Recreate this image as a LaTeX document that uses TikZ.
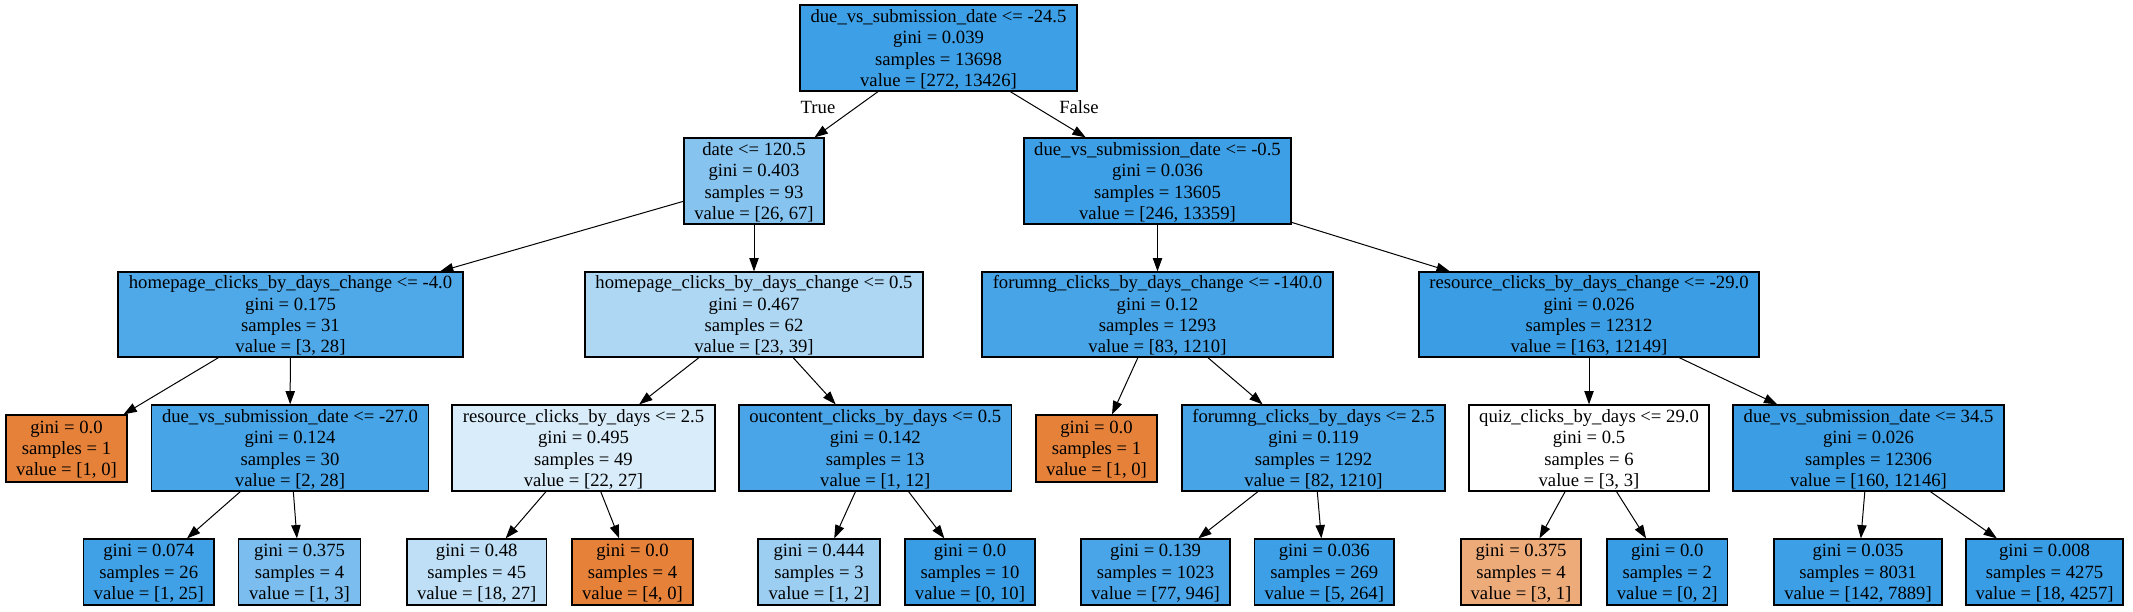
\documentclass[tikz,border=0pt]{standalone}
\usepackage{fontspec}
\setmainfont{Liberation Serif}
\usetikzlibrary{fit,arrows.meta}
\definecolor{clsA}{RGB}{229,129,57}
\definecolor{clsB}{RGB}{57,157,229}
\newcommand\tnode[7]{\node[tbox,fill=#2,fit={(#3,#4) (#5,#6)}] (#1) {};
  \node[ttext] at ([yshift=-1pt]#1.center) {#7};}
\begin{document}
\begin{tikzpicture}[x=0.75pt,y=-0.75pt,
  tbox/.style={draw=black,line width=0.9pt,inner sep=0pt},
  ttext/.style={inner sep=0pt,align=center,
    font=\fontsize{14pt}{16pt}\selectfont},
  edge/.style={draw=black,line width=0.75pt,-{Triangle[length=10pt,width=7pt]}},
  elabel/.style={font=\fontsize{14pt}{14pt}\selectfont,inner sep=0pt}]
\useasboundingbox[fill=white] (0,0) rectangle (2133,611);
% level 0
\tnode{root}{clsB!98!white}{800}{5}{1077}{91}{due\_vs\_submission\_date <= -24.5\\gini = 0.039\\samples = 13698\\value = [272, 13426]}
% level 1
\tnode{date}{clsB!61!white}{684}{138}{824}{224}{date <= 120.5\\gini = 0.403\\samples = 93\\value = [26, 67]}
\tnode{dueA}{clsB!98!white}{1024}{138}{1291}{224}{due\_vs\_submission\_date <= -0.5\\gini = 0.036\\samples = 13605\\value = [246, 13359]}
% level 2
\tnode{hpA}{clsB!89!white}{118}{272}{463}{357}{homepage\_clicks\_by\_days\_change <= -4.0\\gini = 0.175\\samples = 31\\value = [3, 28]}
\tnode{hpB}{clsB!41!white}{585}{272}{923}{357}{homepage\_clicks\_by\_days\_change <= 0.5\\gini = 0.467\\samples = 62\\value = [23, 39]}
\tnode{fmA}{clsB!93!white}{982}{272}{1333}{357}{forumng\_clicks\_by\_days\_change <= -140.0\\gini = 0.12\\samples = 1293\\value = [83, 1210]}
\tnode{rsA}{clsB!99!white}{1419}{272}{1759}{357}{resource\_clicks\_by\_days\_change <= -29.0\\gini = 0.026\\samples = 12312\\value = [163, 12149]}
% level 3
\tnode{lfA}{clsA}{6}{415}{127}{482}{gini = 0.0\\samples = 1\\value = [1, 0]}
\tnode{dueB}{clsB!93!white}{151.5}{405}{428.5}{491}{due\_vs\_submission\_date <= -27.0\\gini = 0.124\\samples = 30\\value = [2, 28]}
\tnode{rcA}{clsB!19!white}{452}{405}{715}{491}{resource\_clicks\_by\_days <= 2.5\\gini = 0.495\\samples = 49\\value = [22, 27]}
\tnode{ouA}{clsB!92!white}{739}{405}{1011.5}{491}{oucontent\_clicks\_by\_days <= 0.5\\gini = 0.142\\samples = 13\\value = [1, 12]}
\tnode{lfB}{clsA}{1036}{415}{1157}{482}{gini = 0.0\\samples = 1\\value = [1, 0]}
\tnode{fmB}{clsB!93!white}{1182}{405}{1445}{491}{forumng\_clicks\_by\_days <= 2.5\\gini = 0.119\\samples = 1292\\value = [82, 1210]}
\tnode{qz}{white}{1469}{405}{1709}{491}{quiz\_clicks\_by\_days <= 29.0\\gini = 0.5\\samples = 6\\value = [3, 3]}
\tnode{dueC}{clsB!99!white}{1733}{405}{2004}{491}{due\_vs\_submission\_date <= 34.5\\gini = 0.026\\samples = 12306\\value = [160, 12146]}
% level 4
\tnode{l1}{clsB!96!white}{83.5}{539}{214}{605}{gini = 0.074\\samples = 26\\value = [1, 25]}
\tnode{l2}{clsB!67!white}{238.5}{539}{360.5}{605}{gini = 0.375\\samples = 4\\value = [1, 3]}
\tnode{l3}{clsB!33!white}{407}{539}{546.5}{605}{gini = 0.48\\samples = 45\\value = [18, 27]}
\tnode{l4}{clsA}{572}{539}{693}{605}{gini = 0.0\\samples = 4\\value = [4, 0]}
\tnode{l5}{clsB!50!white}{758}{539}{880}{605}{gini = 0.444\\samples = 3\\value = [1, 2]}
\tnode{l6}{clsB}{905}{539}{1035}{605}{gini = 0.0\\samples = 10\\value = [0, 10]}
\tnode{l7}{clsB!92!white}{1081}{539}{1230}{605}{gini = 0.139\\samples = 1023\\value = [77, 946]}
\tnode{l8}{clsB!98!white}{1254.5}{539}{1394}{605}{gini = 0.036\\samples = 269\\value = [5, 264]}
\tnode{l9}{clsA!67!white}{1461}{539}{1581}{605}{gini = 0.375\\samples = 4\\value = [3, 1]}
\tnode{l10}{clsB}{1607}{539}{1727.5}{605}{gini = 0.0\\samples = 2\\value = [0, 2]}
\tnode{l11}{clsB!98!white}{1774}{539}{1942}{605}{gini = 0.035\\samples = 8031\\value = [142, 7889]}
\tnode{l12}{clsB}{1966}{539}{2123}{605}{gini = 0.008\\samples = 4275\\value = [18, 4257]}
% edges
\draw[edge] (root) -- (date);
\draw[edge] (root) -- (dueA);
\draw[edge] (date) -- (hpA);
\draw[edge] (date) -- (hpB);
\draw[edge] (dueA) -- (fmA);
\draw[edge] (dueA) -- (rsA);
\draw[edge] (hpA) -- (lfA);
\draw[edge] (hpA) -- (dueB);
\draw[edge] (hpB) -- (rcA);
\draw[edge] (hpB) -- (ouA);
\draw[edge] (fmA) -- (lfB);
\draw[edge] (fmA) -- (fmB);
\draw[edge] (rsA) -- (qz);
\draw[edge] (rsA) -- (dueC);
\draw[edge] (dueB) -- (l1);
\draw[edge] (dueB) -- (l2);
\draw[edge] (rcA) -- (l3);
\draw[edge] (rcA) -- (l4);
\draw[edge] (ouA) -- (l5);
\draw[edge] (ouA) -- (l6);
\draw[edge] (fmB) -- (l7);
\draw[edge] (fmB) -- (l8);
\draw[edge] (qz) -- (l9);
\draw[edge] (qz) -- (l10);
\draw[edge] (dueC) -- (l11);
\draw[edge] (dueC) -- (l12);
% edge labels
\node[elabel] (tlab) at (818,107) {True};
\node[elabel] (flab) at (1079,107) {False};
\end{tikzpicture}
\end{document}
